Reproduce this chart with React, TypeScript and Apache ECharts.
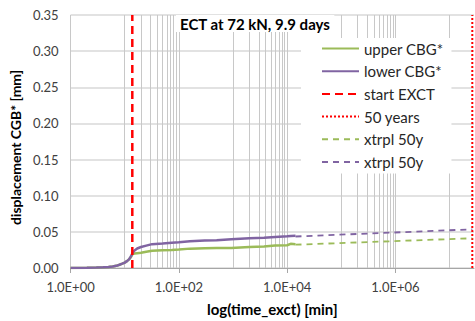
import { useEffect, useRef } from 'react';
import * as echarts from 'echarts';

// measured data (time in minutes, displacement in mm)
const timeMin = [1, 2, 3, 4, 5, 6, 7, 8, 9, 10, 11, 12, 13, 13.8, 15, 17, 20, 25, 32, 50, 74, 100, 160, 300, 500, 930, 2000, 3730, 6000, 10000, 11600, 14256];
const upperCBG = [0, 0.0003, 0.0006, 0.001, 0.0015, 0.002, 0.003, 0.0045, 0.006, 0.0075, 0.0095, 0.012, 0.015, 0.019, 0.02, 0.0205, 0.021, 0.0225, 0.0238, 0.0245, 0.025, 0.0255, 0.0268, 0.0272, 0.0275, 0.0278, 0.029, 0.0298, 0.031, 0.0315, 0.0335, 0.033];
const lowerCBG = [0, 0.0003, 0.0006, 0.001, 0.0015, 0.002, 0.003, 0.0045, 0.006, 0.0075, 0.0095, 0.012, 0.016, 0.02, 0.024, 0.027, 0.029, 0.031, 0.033, 0.034, 0.035, 0.0355, 0.037, 0.038, 0.0385, 0.0398, 0.041, 0.042, 0.043, 0.0438, 0.0443, 0.0445];

// extrapolation to 50 years
const xtrplTime = [14256, 26280000];
const xtrplUpper = [0.0322, 0.0411];
const xtrplLower = [0.0436, 0.0535];

const startExct = 13.8;
const fiftyYears = 26280000;

// vertical grid lines (axis values)
const majorGrid = [1, 10, 100, 1000, 1e4, 1e5, 1e6, 1e7];
const minorGrid = [20, 30, 40, 50, 60, 70, 80, 90, 2000, 3000, 4000, 5000, 6000, 7000, 8000, 9000, 2e5, 3e5, 4e5, 5e5, 6e5, 7e5, 8e5, 9e5];

const legendNames = ['upper CBG*', 'lower CBG*', 'start EXCT', '50 years', 'xtrpl 50y', 'xtrpl 50y '];

const FONT = 'Lato';
const zip = (xs: number[], ys: number[]) => xs.map((x, i) => [x, ys[i]]);

export default function App() {
  const ref = useRef<HTMLDivElement>(null);
  useEffect(() => {
    const chart = echarts.init(ref.current!, null, { renderer: 'svg' });
    const gridLines = [...majorGrid, ...minorGrid].map((v) => ({ xAxis: v }));
    chart.setOption({
      animation: false,
      textStyle: { fontFamily: FONT },
      title: {
        text: 'ECT at 72 kN, 9.9 days',
        left: 176,
        top: 15,
        z: 20,
        padding: [0, 4, 0, 4],
        backgroundColor: '#fff',
        textStyle: { fontSize: 15, fontWeight: 'bold', color: '#000', lineHeight: 17, fontFamily: FONT },
      },
      legend: {
        orient: 'vertical',
        left: 301,
        top: 38,
        z: 20,
        padding: [3, 8, 4, 20],
        backgroundColor: '#fff',
        itemWidth: 37,
        itemHeight: 14,
        itemGap: 7.7,
        itemStyle: { opacity: 0 },
        data: legendNames.map((n) => ({ name: n, itemStyle: { opacity: 0 } })),
        formatter: (n: string) => n.trim(),
        textStyle: { fontSize: 15, color: '#262626', fontFamily: FONT },
      },
      grid: { left: 67.7, right: 1, top: 15, bottom: 51 },
      xAxis: {
        type: 'log',
        logBase: 10,
        min: 1,
        max: 28250000,
        interval: 2,
        splitLine: { show: false },
        axisLine: { lineStyle: { color: '#a6a6a6', width: 1 } },
        axisTick: { length: 5, lineStyle: { color: '#a6a6a6' } },
        axisLabel: {
          showMaxLabel: false,
          margin: 12,
          fontSize: 13,
          color: '#404040',
          fontFamily: FONT,
          formatter: (v: number) => {
            const e = Math.round(Math.log10(v));
            if (Math.abs(Math.log10(v) - e) > 1e-6 || e % 2 !== 0) return '';
            return '1.0E+' + String(e).padStart(2, '0');
          },
        },
        name: 'log(time_exct) [min]',
        nameLocation: 'middle',
        nameGap: 33,
        nameTextStyle: { fontSize: 15, fontWeight: 'bold', color: '#000', fontFamily: FONT },
      },
      yAxis: {
        type: 'value',
        min: 0,
        max: 0.35,
        interval: 0.05,
        axisLine: { show: false },
        axisTick: { show: false },
        splitLine: { lineStyle: { color: '#d9d9d9', width: 1.5 } },
        axisLabel: {
          margin: 12,
          fontSize: 13,
          color: '#404040',
          fontFamily: FONT,
          formatter: (v: number) => v.toFixed(2),
        },
        name: 'displacement CGB* [mm]',
        nameLocation: 'middle',
        nameGap: 47,
        nameTextStyle: { fontSize: 14, fontWeight: 'bold', color: '#000', fontFamily: FONT, padding: [0, 12, 0, 0] },
      },
      series: [
        {
          name: 'grid',
          type: 'line',
          data: [[1, 0]],
          symbol: 'none',
          lineStyle: { opacity: 0 },
          silent: true,
          z: 1,
          markLine: {
            silent: true,
            z: 1,
            symbol: ['none', 'none'],
            label: { show: false },
            lineStyle: { color: '#c8c8c8', width: 1, type: 'solid' },
            data: gridLines,
          },
        },
        {
          name: 'upper CBG*',
          type: 'line',
          data: zip(timeMin, upperCBG),
          symbol: 'none',
          lineStyle: { color: '#9BBB59', width: 2.5 },
          itemStyle: { color: '#9BBB59' },
        },
        {
          name: 'lower CBG*',
          type: 'line',
          data: zip(timeMin, lowerCBG),
          symbol: 'none',
          lineStyle: { color: '#8064A2', width: 2.5 },
          itemStyle: { color: '#8064A2' },
        },
        {
          name: 'start EXCT',
          type: 'line',
          data: [[startExct, 0], [startExct, 0.35]],
          symbol: 'none',
          lineStyle: { color: '#FF0000', width: 2.5, type: [8, 5] },
          itemStyle: { color: '#FF0000' },
        },
        {
          name: '50 years',
          type: 'line',
          data: [[fiftyYears, 0], [fiftyYears, 0.35]],
          symbol: 'none',
          lineStyle: { color: '#FF0000', width: 2, type: [2, 2] },
          itemStyle: { color: '#FF0000' },
        },
        {
          name: 'xtrpl 50y',
          type: 'line',
          data: zip(xtrplTime, xtrplUpper),
          symbol: 'none',
          lineStyle: { color: '#9BBB59', width: 1.8, type: [6, 5] },
          itemStyle: { color: '#9BBB59' },
        },
        {
          name: 'xtrpl 50y ',
          type: 'line',
          data: zip(xtrplTime, xtrplLower),
          symbol: 'none',
          lineStyle: { color: '#8064A2', width: 1.8, type: [6, 5] },
          itemStyle: { color: '#8064A2' },
        },
      ],
    });
    return () => chart.dispose();
  }, []);
  return <div ref={ref} style={{ position: 'absolute', left: 0, top: 0, width: 475, height: 321 }} />;
}
